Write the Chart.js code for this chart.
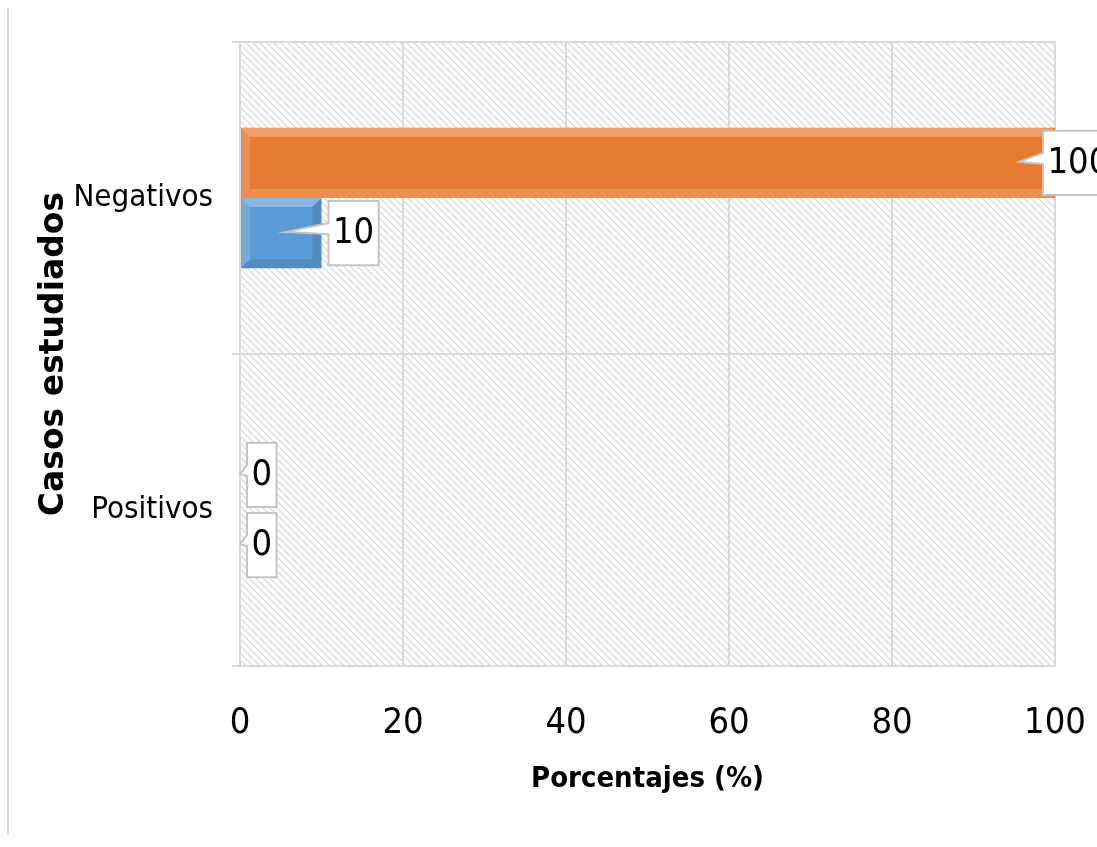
<!DOCTYPE html>
<html>
<head>
<meta charset="utf-8">
<title>Casos estudiados</title>
<script src="https://cdn.jsdelivr.net/npm/chart.js@4/dist/chart.umd.min.js"></script>
<style>
  html, body { margin: 0; padding: 0; background: #ffffff; }
  #wrap { width: 1097px; height: 847px; position: relative; }
</style>
</head>
<body>
<div id="wrap"><canvas id="chart" width="1097" height="847"></canvas></div>
<script>
// ---- data ----
const categories = ['Negativos', 'Positivos'];
const seriesOrange = [100, 0];
const seriesBlue = [10, 0];
const xTickValues = [0, 20, 40, 60, 80, 100];

const NARROW = '"Liberation Sans Narrow", "DejaVu Sans Condensed", "Liberation Sans", Arial, sans-serif';
const GRID = '#d9d9d9';

// diagonal hatch used for the plot background
function makeHatch() {
  const s = 7;
  const c = document.createElement('canvas');
  c.width = s; c.height = s;
  const g = c.getContext('2d');
  g.fillStyle = '#ffffff';
  g.fillRect(0, 0, s, s);
  g.strokeStyle = '#d6d6d6';
  g.lineWidth = 1.2;
  g.beginPath();
  g.moveTo(-1, -1); g.lineTo(s + 1, s + 1);
  g.moveTo(-1, s - 1); g.lineTo(1, s + 1);
  g.moveTo(s - 1, -1); g.lineTo(s + 1, 1);
  g.stroke();
  return g.createPattern(c, 'repeat');
}

const backdrop = {
  id: 'backdrop',
  beforeDraw(chart) {
    const { ctx, chartArea: a } = chart;
    ctx.save();
    ctx.fillStyle = makeHatch();
    ctx.fillRect(a.left, a.top, a.right - a.left, a.bottom - a.top);
    // outer frame line on the left
    ctx.strokeStyle = GRID;
    ctx.lineWidth = 2;
    ctx.beginPath();
    ctx.moveTo(8, 8);
    ctx.lineTo(8, 835);
    ctx.stroke();
    ctx.restore();
  }
};

// bevelled look on each bar
const bevel = {
  id: 'bevel',
  afterDatasetsDraw(chart) {
    const ctx = chart.ctx;
    chart.data.datasets.forEach((ds, di) => {
      chart.getDatasetMeta(di).data.forEach(bar => {
        const x0 = Math.min(bar.base, bar.x), x1 = Math.max(bar.base, bar.x);
        const y0 = bar.y - bar.height / 2, y1 = bar.y + bar.height / 2;
        if (x1 - x0 < 2) return;
        const b = Math.min(9, (x1 - x0) / 2, (y1 - y0) / 2);
        const poly = (pts, fill) => {
          ctx.beginPath();
          ctx.moveTo(pts[0][0], pts[0][1]);
          for (let k = 1; k < pts.length; k++) ctx.lineTo(pts[k][0], pts[k][1]);
          ctx.closePath();
          ctx.fillStyle = fill;
          ctx.fill();
        };
        ctx.save();
        poly([[x0, y0], [x1, y0], [x1 - b, y0 + b], [x0 + b, y0 + b]], 'rgba(255,255,255,0.28)');
        poly([[x0, y0], [x0 + b, y0 + b], [x0 + b, y1 - b], [x0, y1]], 'rgba(255,255,255,0.16)');
        poly([[x0, y1], [x0 + b, y1 - b], [x1 - b, y1 - b], [x1, y1]], ds.bevelBottom);
        poly([[x1, y0], [x1, y1], [x1 - b, y1 - b], [x1 - b, y0 + b]], 'rgba(0,0,0,0.10)');
        ctx.restore();
      });
    });
  }
};

// white callout boxes holding each value
const callouts = {
  id: 'callouts',
  afterDatasetsDraw(chart) {
    const ctx = chart.ctx;
    const base = chart.scales.x.getPixelForValue(0);
    ctx.save();
    ctx.font = '36px ' + NARROW;
    chart.data.datasets.forEach((ds, di) => {
      chart.getDatasetMeta(di).data.forEach((bar, i) => {
        const text = String(ds.data[i]);
        const tw = ctx.measureText(text).width;
        const bw = tw + 9;
        const bh = bar.height - 6;
        const end = bar.x;
        const left = Math.min(end + 7, chart.width - 54);
        const top = bar.y - bh / 2;
        const tipX = Math.max(base, end - 36);
        const tipY = bar.y - 1;
        ctx.beginPath();
        ctx.moveTo(left, top);
        ctx.lineTo(left + bw, top);
        ctx.lineTo(left + bw, top + bh);
        ctx.lineTo(left, top + bh);
        ctx.lineTo(left, bar.y + 1);
        ctx.lineTo(tipX, tipY);
        ctx.lineTo(left, bar.y - 10);
        ctx.closePath();
        ctx.fillStyle = '#ffffff';
        ctx.fill();
        ctx.strokeStyle = '#c4c4c4';
        ctx.lineWidth = 2;
        ctx.stroke();
        ctx.fillStyle = '#000000';
        ctx.textAlign = 'center';
        ctx.textBaseline = 'middle';
        ctx.fillText(text, left + bw / 2, bar.y + 1);
      });
    });
    ctx.restore();
  }
};

new Chart(document.getElementById('chart'), {
  type: 'bar',
  data: {
    labels: categories,
    datasets: [
      {
        label: 'Serie 2',
        data: seriesOrange,
        backgroundColor: '#e67b33',
        bevelBottom: 'rgba(255,255,255,0.16)',
        categoryPercentage: 0.45,
        barPercentage: 1.0
      },
      {
        label: 'Serie 1',
        data: seriesBlue,
        backgroundColor: '#5b9bd5',
        bevelBottom: 'rgba(0,0,0,0.10)',
        categoryPercentage: 0.45,
        barPercentage: 1.0
      }
    ]
  },
  options: {
    indexAxis: 'y',
    responsive: false,
    animation: false,
    events: [],
    layout: { padding: { top: 42, right: 42, bottom: 0, left: 0 } },
    plugins: {
      legend: { display: false },
      tooltip: { enabled: false }
    },
    scales: {
      x: {
        min: 0,
        max: 100,
        afterBuildTicks(scale) { scale.ticks = xTickValues.map(v => ({ value: v })); },
        afterFit(scale) {
          scale.height = 181;
          scale.paddingLeft = 0;
          scale.paddingRight = 0;
        },
        grid: { color: GRID, lineWidth: 2, drawTicks: false },
        border: { color: GRID, width: 2 },
        ticks: {
          padding: 36,
          color: '#000000',
          font: { family: NARROW, size: 36 }
        },
        title: {
          display: true,
          text: 'Porcentajes (%)',
          color: '#000000',
          font: { family: NARROW, size: 29, weight: 'bold' },
          padding: { top: 0, bottom: 50 }
        }
      },
      y: {
        afterFit(scale) { scale.width = 240; },
        grid: { color: GRID, lineWidth: 2, tickLength: 8, offset: true },
        border: { color: GRID, width: 2 },
        ticks: {
          padding: 19,
          color: '#000000',
          font: { family: NARROW, size: 31 }
        },
        title: {
          display: true,
          text: 'Casos estudiados',
          color: '#000000',
          font: { family: '"DejaVu Sans", "Liberation Sans", sans-serif', size: 33, weight: 'bold' },
          padding: { top: 35, bottom: 0 }
        }
      }
    }
  },
  plugins: [backdrop, bevel, callouts]
});
</script>
</body>
</html>
